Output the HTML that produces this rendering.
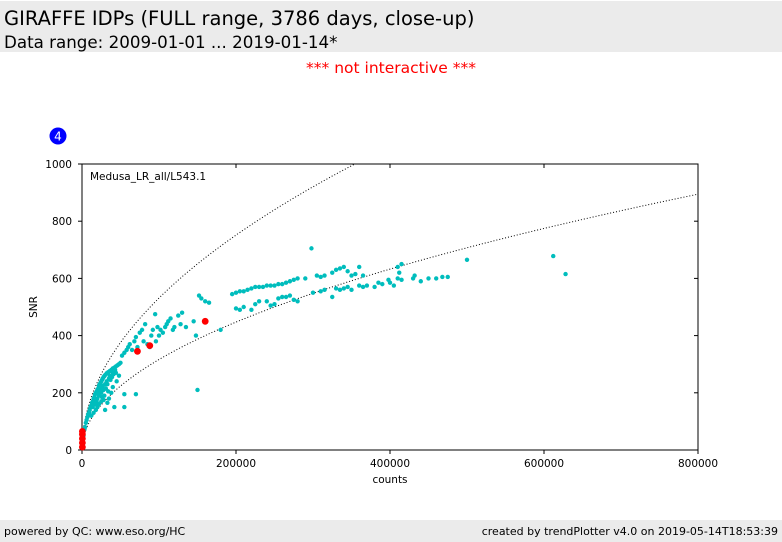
<!DOCTYPE html>
<html><head><meta charset="utf-8"><style>
body{margin:0;width:782px;height:542px;background:#fff;font-family:"DejaVu Sans",sans-serif;position:relative;overflow:hidden}
.hdr{position:absolute;left:0;top:1px;width:782px;height:51px;background:#ebebeb}
.ftr{position:absolute;left:0;top:520px;width:782px;height:22px;background:#ebebeb;font-size:11px}
</style></head><body>
<div class="hdr">
<div style="position:absolute;left:4px;top:6px;font-size:19.5px">GIRAFFE IDPs (FULL range, 3786 days, close-up)</div>
<div style="position:absolute;left:4px;top:31px;font-size:16.7px">Data range: 2009-01-01 ... 2019-01-14*</div>
</div>
<div style="position:absolute;left:0;width:782px;top:59px;text-align:center;color:#f00;font-size:15.5px">*** not interactive ***</div>
<svg width="782" height="542" style="position:absolute;left:0;top:0" id="chart">
<circle cx="58" cy="136" r="8.5" fill="#0000ff"/>
<text x="58" y="140.5" fill="#fff" font-size="12" text-anchor="middle" font-family="DejaVu Sans">4</text>
</svg>
<div class="ftr">
<span style="position:absolute;left:4px;top:5px">powered by QC: www.eso.org/HC</span>
<span style="position:absolute;right:4px;top:5px">created by trendPlotter v4.0 on 2019-05-14T18:53:39</span>
</div>
<script>
const xTicks=[0,200000,400000,600000,800000];
const yTicks=[0,200,400,600,800,1000];
const curveCoefs=[1.0,1.68];
const countsK=[1,2,3,4,5,6,7,8,9,10,11,12,13,14,15,16,17,18,19,20,21,22,23,24,25,26,27,28,29,30,32,34,36,38,40,42,44,46,48,50,
12,15,18,20,22,25,28,30,33,35,38,40,42,45,48,25,30,35,20,28,32,36,40,44,
14,17,19,22,24,26,27,29,31,33,34,37,39,41,43,16,18,21,23,26,
55,55,70,150,
52,55,58,60,62,65,68,70,72,75,78,80,82,85,88,90,92,95,96,98,100,102,105,108,110,112,115,118,120,125,128,130,135,145,148,152,155,160,165,180,
195,200,205,210,215,220,225,230,235,240,245,250,255,260,265,270,275,280,290,298,305,310,315,325,330,335,340,345,350,355,360,365,410,415,412,500,612,628,
200,205,210,220,225,230,240,245,250,255,260,265,270,275,280,300,310,315,325,330,335,340,345,350,360,365,370,380,390,400,405,410,415,430,432,440,450,460,468,475,398,385];
const snrVals=[30,50,70,80,95,105,115,125,130,140,150,155,165,170,180,185,195,200,205,210,215,225,230,235,240,245,250,255,258,262,268,272,276,280,285,288,292,296,300,305,
120,130,140,150,160,170,175,140,165,180,200,220,150,240,260,200,230,250,180,210,240,260,270,270,
150,160,170,190,205,215,225,190,215,230,205,245,255,265,280,175,165,200,215,185,
150,195,195,210,
330,340,350,360,370,350,380,395,360,410,420,380,440,370,360,400,420,475,380,430,400,420,410,430,440,450,460,420,430,470,440,480,430,450,400,540,530,520,515,420,
545,550,555,555,560,565,570,570,570,575,575,575,580,580,585,590,595,600,600,705,610,605,610,620,630,635,640,625,610,615,640,610,640,650,620,665,678,615,
495,490,500,490,510,520,520,505,510,530,535,535,540,525,520,550,555,560,535,565,560,565,570,560,575,570,575,570,580,585,575,600,595,600,610,590,600,600,605,605,595,585];
const redCountsK=[0.5,0.5,0.5,0.5,0.5,72,88,160];
const redSnr=[10,25,40,55,65,345,365,450];

const svg=document.getElementById('chart');
const NS='http://www.w3.org/2000/svg';
const X0=82,X1=698,Y0=450,Y1=164;
const xs=v=>X0+(v-0)/800000*(X1-X0);
const ys=v=>Y0-(v-0)/1000*(Y0-Y1);
function mk(t,a){const e=document.createElementNS(NS,t);for(const k in a)e.setAttribute(k,a[k]);svg.appendChild(e);return e;}
const frame=mk('rect',{x:X0,y:Y1,width:X1-X0,height:Y0-Y1,fill:'none',stroke:'#000','stroke-width':1});


xTicks.forEach(t=>{
 mk('line',{x1:xs(t),x2:xs(t),y1:Y0,y2:Y0+4,stroke:'#000'});
 mk('line',{x1:xs(t),x2:xs(t),y1:Y1,y2:Y1+4,stroke:'#000'});
 const tx=mk('text',{x:xs(t),y:Y0+17,'font-size':10.5,'text-anchor':'middle','font-family':'DejaVu Sans'});
 tx.textContent=t;
 
 
});
yTicks.forEach(t=>{
 mk('line',{x1:X0-4,x2:X0,y1:ys(t),y2:ys(t),stroke:'#000'});
 mk('line',{x1:X1-4,x2:X1,y1:ys(t),y2:ys(t),stroke:'#000'});
 const tx=mk('text',{x:X0-10,y:ys(t)+4,'font-size':10.5,'text-anchor':'end','font-family':'DejaVu Sans'});
 tx.textContent=t;
 
 
});
const xl=mk('text',{x:390,y:483,'font-size':10.5,'text-anchor':'middle','font-family':'DejaVu Sans'});
xl.textContent='counts';


const yl=mk('text',{x:37,y:307,'font-size':10.5,'text-anchor':'middle','font-family':'DejaVu Sans',transform:'rotate(-90 37 307)'});
yl.textContent='SNR';


const lab=mk('text',{x:90,y:180,'font-size':10.5,'font-family':'DejaVu Sans'});
lab.textContent='Medusa_LR_all/L543.1';


curveCoefs.forEach(a=>{
 let d='';
 for(let i=0;i<=400;i++){const c=800000*Math.pow(i/400,2);const s=a*Math.sqrt(c);if(s>1000)break;d+=(i?'L':'M')+xs(c).toFixed(1)+','+ys(s).toFixed(1);}
 const p=mk('path',{d:d,fill:'none',stroke:'#000','stroke-width':1,'stroke-dasharray':'1,2'});
 
 
});
countsK.forEach((c,i)=>{
 const p=mk('circle',{cx:xs(c*1000),cy:ys(snrVals[i]),r:2.2,fill:'#00bdbd'});
 
 
});
redCountsK.forEach((c,i)=>{
 const p=mk('circle',{cx:xs(c*1000),cy:ys(redSnr[i]),r:3.4,fill:'#f00'});
 
 
});
</script>
</body></html>
